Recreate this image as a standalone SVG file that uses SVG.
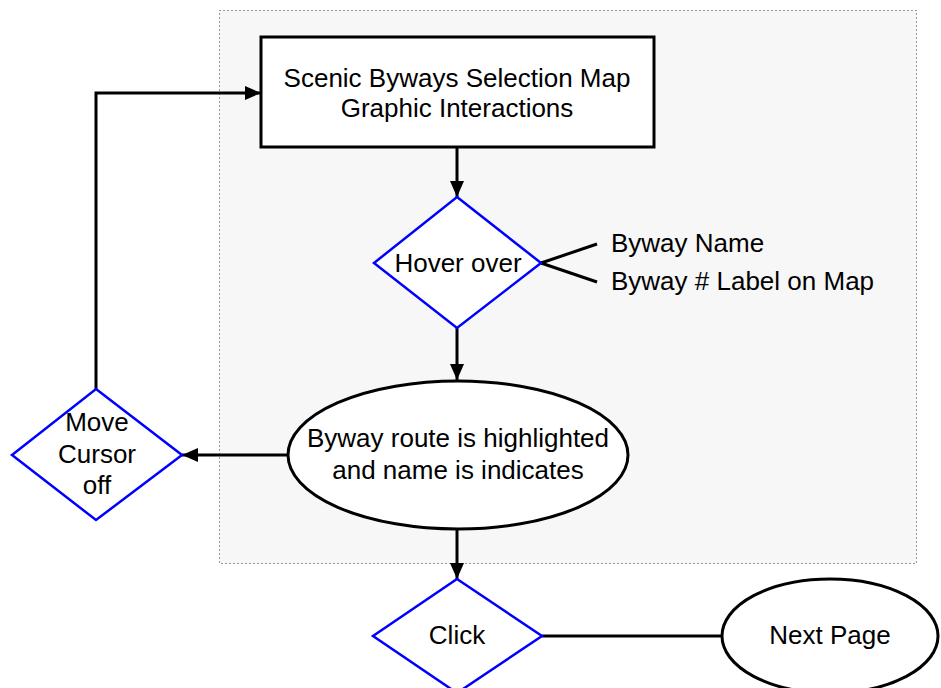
<svg xmlns="http://www.w3.org/2000/svg" width="941" height="688" viewBox="0 0 941 688">
<defs>
<marker id="arr" viewBox="0 0 16 14" refX="16" refY="7" markerWidth="16" markerHeight="14" markerUnits="userSpaceOnUse" orient="auto">
<path d="M0,0 L16,7 L0,14 z" fill="#000"/>
</marker>
<style>
.t{font-family:"Liberation Sans",Arial,sans-serif;font-size:26px;fill:#000}
.c{text-anchor:middle}
.box{fill:#fff;stroke:#000;stroke-width:3}
.dia{fill:#fff;stroke:#0000ff;stroke-width:2.5}
.ln{fill:none;stroke:#000;stroke-width:3}
</style>
</defs>
<rect x="219.5" y="10.5" width="697" height="553" fill="#f7f7f7" stroke="#333" stroke-width="1" stroke-dasharray="1,3"/>
<g id="connectors">
<line class="ln" x1="457" y1="148" x2="457" y2="197" marker-end="url(#arr)"/>
<line class="ln" x1="457" y1="328" x2="457" y2="380" marker-end="url(#arr)"/>
<line class="ln" x1="457" y1="529" x2="457" y2="579" marker-end="url(#arr)"/>
<line class="ln" x1="288" y1="455" x2="182" y2="455" marker-end="url(#arr)"/>
<polyline class="ln" points="96,389 96,93 261,93" marker-end="url(#arr)"/>
<line class="ln" x1="542" y1="636" x2="722" y2="636"/>
<line class="ln" x1="541" y1="263" x2="597" y2="244"/>
<line class="ln" x1="541" y1="263" x2="597" y2="282"/>
</g>
<g id="start">
<rect class="box" x="261" y="37" width="393" height="110"/>
<text class="t c" x="457" y="87">Scenic Byways Selection Map</text>
<text class="t c" x="457" y="117">Graphic Interactions</text>
</g>
<g id="hover">
<polygon class="dia" points="457,197 541,263 457,328 374,263"/>
<text class="t c" x="458" y="272">Hover over</text>
</g>
<g id="labels">
<text class="t" x="611" y="252">Byway Name</text>
<text class="t" x="611" y="290">Byway # Label on Map</text>
</g>
<g id="highlight">
<ellipse class="box" cx="458" cy="455" rx="170" ry="74"/>
<text class="t c" x="458" y="447">Byway route is highlighted</text>
<text class="t c" x="458" y="479">and name is indicates</text>
</g>
<g id="move">
<polygon class="dia" points="96,389 182,455 96,520 12,455"/>
<text class="t c" x="97" y="431">Move</text>
<text class="t c" x="97" y="463">Cursor</text>
<text class="t c" x="97" y="494">off</text>
</g>
<g id="click">
<polygon class="dia" points="457,579 542,636 457,693 373,636"/>
<text class="t c" x="457" y="644">Click</text>
</g>
<g id="next">
<ellipse class="box" cx="830" cy="636" rx="108" ry="57"/>
<text class="t c" x="830" y="644">Next Page</text>
</g>
</svg>
